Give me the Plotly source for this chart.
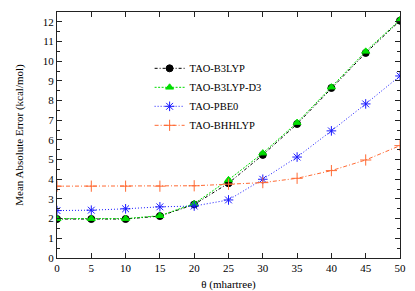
import plotly.graph_objects as go

theta = [0, 5, 10, 15, 20, 25, 30, 35, 40, 45, 50]
b3lyp = [1.98, 1.98, 1.98, 2.13, 2.72, 3.80, 5.24, 6.81, 8.64, 10.42, 12.06]
b3lyp_d3 = [2.00, 2.00, 2.00, 2.15, 2.76, 3.97, 5.33, 6.88, 8.68, 10.50, 12.10]
pbe0 = [2.41, 2.43, 2.50, 2.60, 2.64, 2.95, 4.00, 5.13, 6.46, 7.83, 9.25]
bhhlyp = [3.65, 3.65, 3.65, 3.65, 3.67, 3.75, 3.83, 4.05, 4.44, 4.98, 5.71]

series = [
    ("TAO-B3LYP", b3lyp, "black", "3px,2px,1px,2px", "circle", 7),
    ("TAO-B3LYP-D3", b3lyp_d3, "#00dd00", "2px,1.5px", "triangle-up", 7),
    ("TAO-PBE0", pbe0, "#1a1aff", "1px,2px", "asterisk-open", 8),
    ("TAO-BHHLYP", bhhlyp, "#ff6a33", "4px,2px,1px,2px", "cross-thin-open", 8),
]

fig = go.Figure()
for name, vals, col, dash, sym, size in series:
    fig.add_trace(go.Scatter(
        x=theta, y=vals, name=name, mode="lines+markers",
        line=dict(color=col, width=1, dash=dash),
        marker=dict(symbol=sym, size=size, color=col,
                    line=dict(color=col, width=1)),
    ))

FAM = "Liberation Serif, Times New Roman, Times, serif"
font = dict(family=FAM, size=11, color="black")
axis_common = dict(showline=True, linecolor="#222222", linewidth=1, mirror="allticks",
                   ticks="inside", tickcolor="#222222", ticklen=5, showgrid=False,
                   zeroline=False, tickfont=font, automargin=False)

fig.update_layout(
    width=415, height=291,
    margin=dict(l=57, r=15, t=12, b=33),
    paper_bgcolor="white", plot_bgcolor="white",
    font=font,
    showlegend=True,
    legend=dict(x=0.27, y=0.83, xanchor="left", yanchor="top",
                bgcolor="rgba(0,0,0,0)", font=dict(family=FAM, size=10.5),
                itemwidth=30, tracegroupgap=0),
    xaxis=dict(axis_common, range=[0, 50], dtick=5, tick0=0,
               title=dict(text="θ (mhartree)", font=font, standoff=18)),
    yaxis=dict(axis_common, range=[0, 12.5], dtick=1, tick0=0,
               minor=dict(dtick=0.5, ticks="inside", ticklen=3, tickcolor="#222222"),
               title=dict(text="Mean Absolute Error (kcal/mol)", font=font, standoff=16)),
)

fig.write_html("out.html", config={"displayModeBar": False},
               post_script="document.body.style.margin='0';")
